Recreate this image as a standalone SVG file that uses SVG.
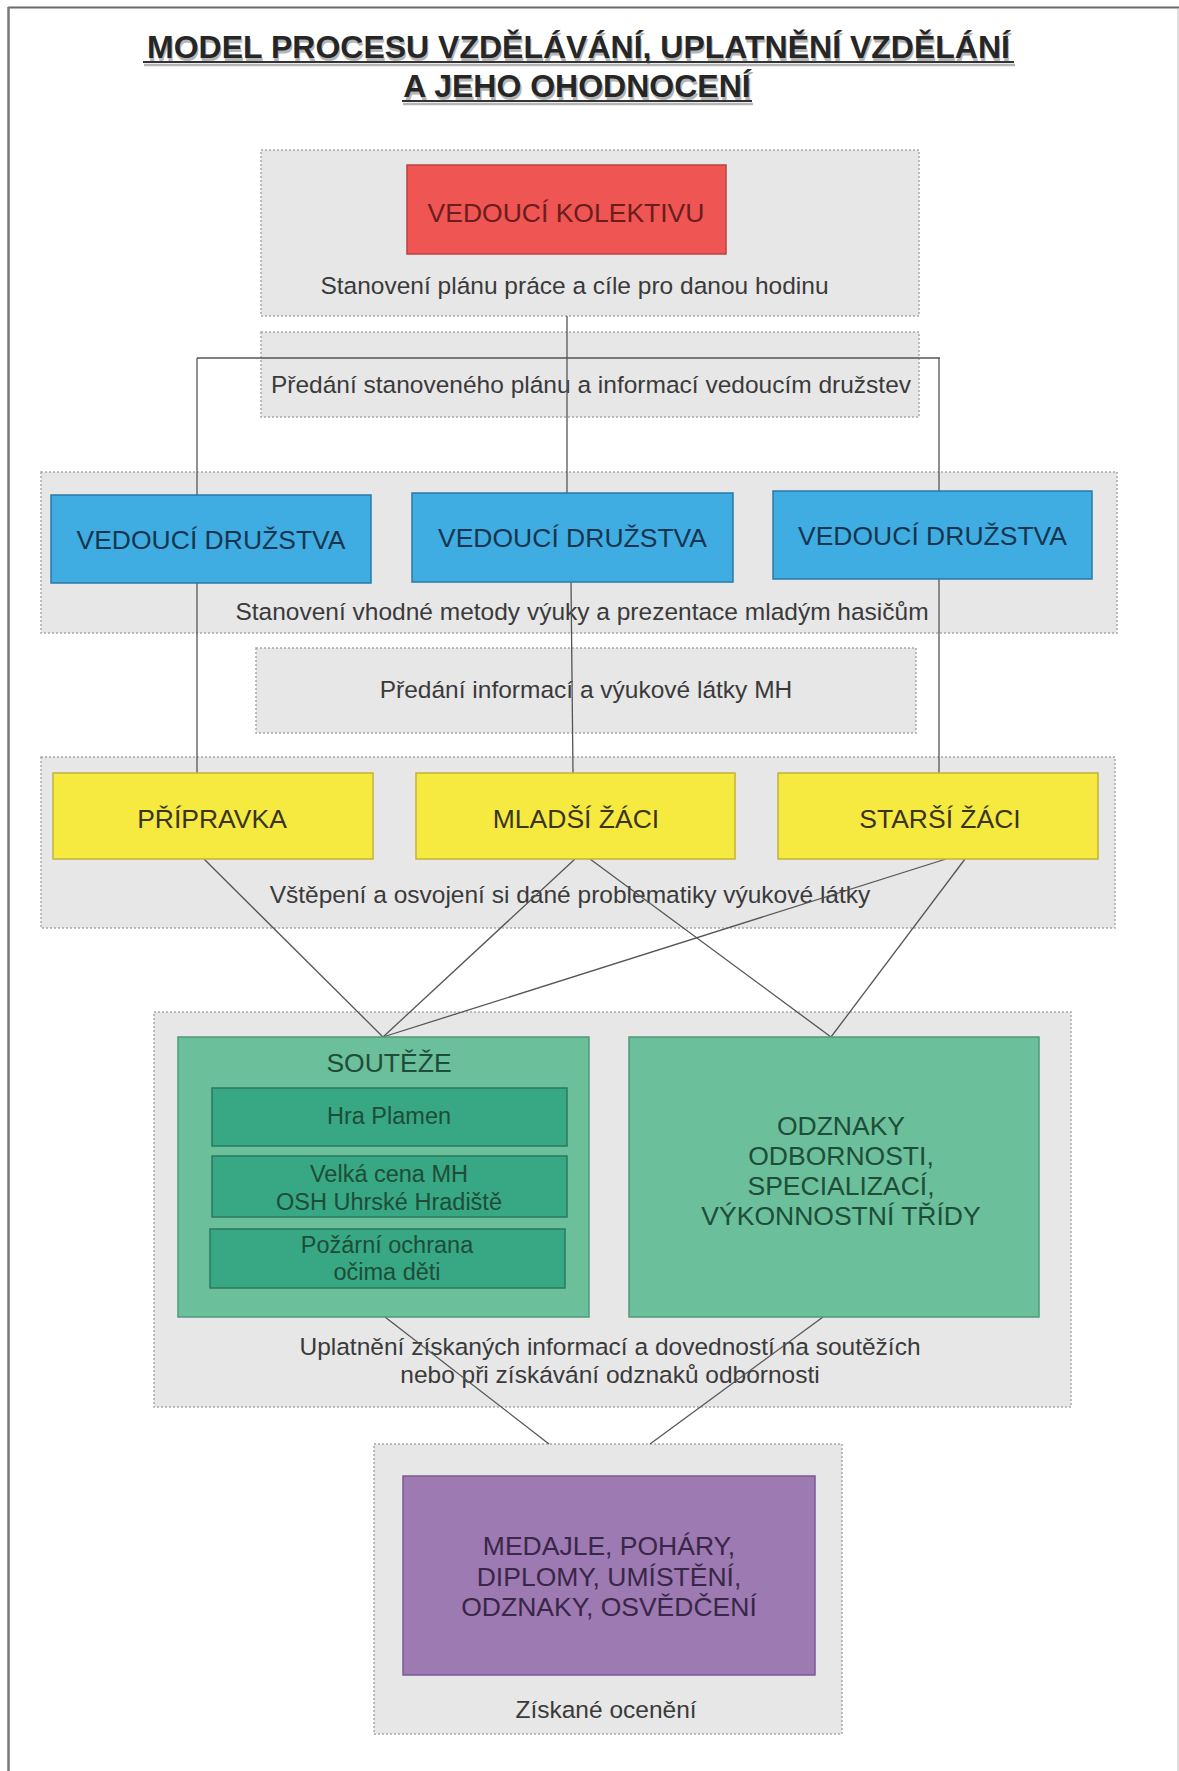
<svg xmlns="http://www.w3.org/2000/svg" width="1179" height="1771" viewBox="0 0 1179 1771">
<style>
text{font-family:"Liberation Sans",Arial,sans-serif;text-anchor:middle}
.title{font-size:32px;font-weight:bold;fill:#262626}
.tshadow{font-size:32px;font-weight:bold;fill:#b5b5b5}
.panel{fill:#e7e7e7;stroke:#a9a9a9;stroke-width:1.5;stroke-dasharray:2 2}
.cap{font-size:24.5px;fill:#3a3a3a}
.lbl{font-size:26.5px}
.red{fill:#ef5552;stroke:#b84242;stroke-width:1.5}
.blue{fill:#3fade2;stroke:#2a7aa8;stroke-width:1.5}
.yellow{fill:#f6ea40;stroke:#c2b33a;stroke-width:1.5}
.gouter{fill:#6bbf9b;stroke:#4e9a7a;stroke-width:1.5}
.ginner{fill:#37a784;stroke:#2b7a60;stroke-width:1.5}
.purple{fill:#9d7ab2;stroke:#7b5a92;stroke-width:1.5}
.conn line{stroke:#555;stroke-width:1.3}
</style>
<rect x="0" y="0" width="1179" height="1771" fill="#ffffff"/>
<!-- frame -->
<line x1="8" y1="7.5" x2="1179" y2="7.5" stroke="#6a6a6a" stroke-width="2"/>
<line x1="8.5" y1="7" x2="8.5" y2="1771" stroke="#777" stroke-width="2.5"/>
<line x1="1178" y1="8" x2="1178" y2="1771" stroke="#bdbdbd" stroke-width="1"/>

<!-- title -->
<g id="title">
<text class="tshadow" x="579.5" y="61">MODEL PROCESU VZDĚLÁVÁNÍ, UPLATNĚNÍ VZDĚLÁNÍ</text>
<text class="tshadow" x="578.5" y="100">A JEHO OHODNOCENÍ</text>
<line x1="144" y1="65" x2="1015" y2="65" stroke="#b5b5b5" stroke-width="2.5"/>
<line x1="403" y1="104" x2="753" y2="104" stroke="#b5b5b5" stroke-width="2.5"/>
<text class="title" x="578.5" y="58">MODEL PROCESU VZDĚLÁVÁNÍ, UPLATNĚNÍ VZDĚLÁNÍ</text>
<text class="title" x="577" y="97">A JEHO OHODNOCENÍ</text>
<line x1="143" y1="62" x2="1014" y2="62" stroke="#333" stroke-width="2"/>
<line x1="402" y1="101" x2="752" y2="101" stroke="#333" stroke-width="2"/>
</g>

<!-- panels -->
<g id="panel-plan">
<rect class="panel" x="261" y="150" width="658" height="166"/>
<text class="cap" x="574.5" y="294">Stanovení plánu práce a cíle pro danou hodinu</text>
</g>
<g id="panel-predani">
<rect class="panel" x="261" y="332" width="658" height="85"/>
<text class="cap" x="591" y="393">Předání stanoveného plánu a informací vedoucím družstev</text>
</g>
<g id="panel-metoda">
<rect class="panel" x="41" y="472" width="1076" height="161"/>
<text class="cap" x="582" y="620">Stanovení vhodné metody výuky a prezentace mladým hasičům</text>
</g>
<g id="panel-predani-mh">
<rect class="panel" x="256" y="648" width="660" height="85"/>
<text class="cap" x="586" y="698">Předání informací a výukové látky MH</text>
</g>
<g id="panel-vstepeni">
<rect class="panel" x="41" y="757" width="1074" height="171"/>
<text class="cap" x="570" y="903">Vštěpení a osvojení si dané problematiky výukové látky</text>
</g>
<g id="panel-uplatneni">
<rect class="panel" x="154" y="1012" width="917" height="395"/>
<text class="cap" x="610" y="1355">Uplatnění získaných informací a dovedností na soutěžích</text>
<text class="cap" x="610" y="1383">nebo při získávání odznaků odbornosti</text>
</g>
<g id="panel-oceneni">
<rect class="panel" x="374" y="1444" width="468" height="290"/>
<text class="cap" x="606" y="1718">Získané ocenění</text>
</g>

<!-- connectors -->
<g id="connectors" class="conn">
<line x1="567" y1="316" x2="567" y2="493"/>
<line x1="197" y1="358" x2="940" y2="358"/>
<line x1="197" y1="358" x2="197" y2="773"/>
<line x1="939" y1="358" x2="939" y2="773"/>
<line x1="571" y1="582" x2="573" y2="773"/>
<line x1="204" y1="859" x2="383" y2="1037"/>
<line x1="575" y1="859" x2="383" y2="1037"/>
<line x1="946" y1="859" x2="383" y2="1037"/>
<line x1="590" y1="859" x2="831" y2="1037"/>
<line x1="965" y1="859" x2="831" y2="1037"/>
<line x1="385" y1="1317" x2="549" y2="1444"/>
<line x1="823" y1="1317" x2="650" y2="1444"/>
</g>

<!-- nodes -->
<g id="vedouci-kolektivu">
<rect class="red" x="407" y="165" width="319" height="89"/>
<text class="lbl" x="566" y="222" fill="#6b1d1d">VEDOUCÍ KOLEKTIVU</text>
</g>
<g id="vedouci-druzstva-1">
<rect class="blue" x="51" y="495" width="320" height="88"/>
<text class="lbl" x="211" y="549" fill="#18354f">VEDOUCÍ DRUŽSTVA</text>
</g>
<g id="vedouci-druzstva-2">
<rect class="blue" x="412" y="493" width="321" height="89"/>
<text class="lbl" x="572.5" y="547" fill="#18354f">VEDOUCÍ DRUŽSTVA</text>
</g>
<g id="vedouci-druzstva-3">
<rect class="blue" x="773" y="491" width="319" height="88"/>
<text class="lbl" x="932.5" y="545" fill="#18354f">VEDOUCÍ DRUŽSTVA</text>
</g>
<g id="pripravka">
<rect class="yellow" x="53" y="773" width="320" height="86"/>
<text class="lbl" x="212" y="828" fill="#3a3520">PŘÍPRAVKA</text>
</g>
<g id="mladsi-zaci">
<rect class="yellow" x="416" y="773" width="319" height="86"/>
<text class="lbl" x="576" y="828" fill="#3a3520">MLADŠÍ ŽÁCI</text>
</g>
<g id="starsi-zaci">
<rect class="yellow" x="778" y="773" width="320" height="86"/>
<text class="lbl" x="940" y="828" fill="#3a3520">STARŠÍ ŽÁCI</text>
</g>
<g id="souteze">
<rect class="gouter" x="178" y="1037" width="411" height="280"/>
<text class="lbl" x="389" y="1072" fill="#1e4d38">SOUTĚŽE</text>
<rect class="ginner" x="212" y="1088" width="355" height="58"/>
<text x="389" y="1124" font-size="23.5" fill="#1e4d38">Hra Plamen</text>
<rect class="ginner" x="212" y="1156" width="355" height="61"/>
<text x="389" y="1182" font-size="23.5" fill="#1e4d38">Velká cena MH</text>
<text x="389" y="1210" font-size="23.5" fill="#1e4d38">OSH Uhrské Hradiště</text>
<rect class="ginner" x="210" y="1229" width="355" height="59"/>
<text x="387" y="1253" font-size="23.5" fill="#1e4d38">Požární ochrana</text>
<text x="387" y="1280" font-size="23.5" fill="#1e4d38">očima děti</text>
</g>
<g id="odznaky">
<rect class="gouter" x="629" y="1037" width="410" height="280"/>
<text class="lbl" x="841" y="1135" fill="#1e4d38">ODZNAKY</text>
<text class="lbl" x="841" y="1165" fill="#1e4d38">ODBORNOSTI,</text>
<text class="lbl" x="841" y="1195" fill="#1e4d38">SPECIALIZACÍ,</text>
<text class="lbl" x="841" y="1225" fill="#1e4d38">VÝKONNOSTNÍ TŘÍDY</text>
</g>
<g id="oceneni">
<rect class="purple" x="403" y="1476" width="412" height="199"/>
<text class="lbl" x="609" y="1555" fill="#3a2648">MEDAJLE, POHÁRY,</text>
<text class="lbl" x="609" y="1586" fill="#3a2648">DIPLOMY, UMÍSTĚNÍ,</text>
<text class="lbl" x="609" y="1616" fill="#3a2648">ODZNAKY, OSVĚDČENÍ</text>
</g>
</svg>
